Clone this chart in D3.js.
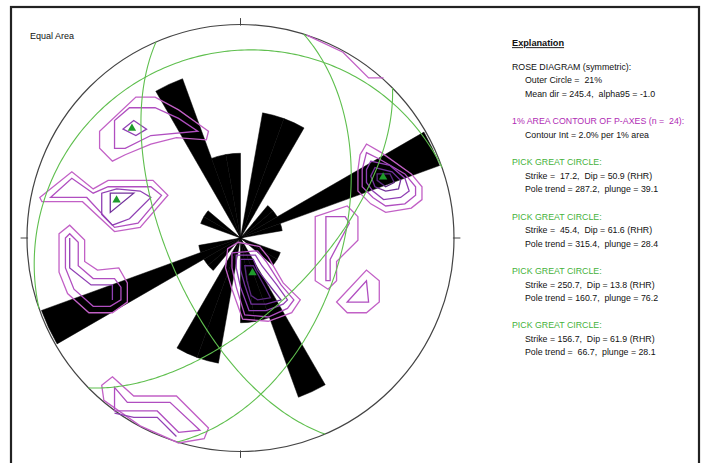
<!DOCTYPE html>
<html><head><meta charset="utf-8">
<script src="https://cdn.jsdelivr.net/npm/d3@7"></script>
<style>
html,body{margin:0;padding:0;background:#fff;}
svg{display:block;font-family:"Liberation Sans",Arial,sans-serif;}
text{white-space:pre;}
</style></head><body>
<svg id="chart" width="707" height="463"></svg>
<script>
// ---------------- data ----------------
// Rose diagram (symmetric), 10-degree bins over 0-180, counts of n = 24
const roseBinStart = [0,10,20,30,40,50,60,70,80,90,100,110,120,130,140,150,160,170];
const roseCounts   = [0, 3, 3, 0, 1, 1, 5, 1, 0, 0,  0,  1,  1,  0,  0,  4,  2,  2];
const roseTotal = 24;
const roseOuterPct = 21;
const meanDir = 245.4, alpha95 = -1.0;

// Picked great circles (strike / dip, RHR) and their poles
const gcStrike   = [17.2, 45.4, 250.7, 156.7];
const gcDip      = [50.9, 61.6, 13.8, 61.9];
const poleTrend  = [287.2, 315.4, 160.7, 66.7];
const polePlunge = [39.1, 28.4, 76.2, 28.1];

// 1% area contours of P-axes (projected x,y in % of net radius, north up)
const contourLevels = [1,2,3,4,5];
const contours = [
  // NW cluster
  {level:1, closed:true, pts:[[-66,50],[-66,42],[-60,36],[-54,39],[-42,44],[-30,47],[-16,46],[-15,50],[-29,60],[-40,66],[-49,66]]},
  {level:2, closed:true, pts:[[-59,55],[-59,42],[-54,42],[-42,48],[-20,50],[-29,56],[-40,61],[-52,61]]},
  {level:3, closed:true, pts:[[-55,51],[-50,55],[-44,51],[-49,48]]},
  // W cluster
  {level:1, closed:true, pts:[[-94,19],[-79,31],[-69,23],[-62,27],[-41,27],[-34,20],[-47,5],[-59,3],[-74,17],[-93,17]]},
  {level:2, closed:true, pts:[[-89,19],[-79,28],[-69,21],[-62,24],[-42,24],[-37,20],[-48,7],[-59,5],[-72,19]]},
  {level:3, closed:true, pts:[[-65,21],[-65,11],[-60,6],[-52,9],[-42,19],[-47,22],[-58,23]]},
  {level:4, closed:true, pts:[[-61,21],[-50,21],[-61,12]]},
  // WSW L-shape
  {level:1, closed:true, pts:[[-85,2],[-80,6],[-73,-1],[-73,-11],[-67,-15],[-57,-14],[-53,-21],[-53,-30],[-60,-35],[-71,-35],[-81,-26],[-85,-16]]},
  {level:2, closed:true, pts:[[-82,0],[-80,2],[-76,-2],[-76,-13],[-69,-19],[-59,-19],[-56,-23],[-56,-29],[-61,-32],[-69,-32],[-78,-24],[-82,-14]]},
  {level:3, closed:false, pts:[[-80,0],[-80,-14],[-70,-22],[-60,-22],[-60,-29]]},
  // SW rim cluster
  {level:1, closed:true, pts:[[-60,-65],[-50,-74],[-30,-74],[-15,-89],[-17,-94],[-29,-96],[-47,-88],[-64,-76],[-65,-69]]},
  {level:2, closed:true, pts:[[-59,-70],[-53,-77],[-33,-77],[-19,-90],[-29,-91],[-39,-81],[-59,-81]]},
  {level:3, closed:false, pts:[[-59,-82],[-50,-84],[-39,-84],[-30,-93]]},
  // NE rim
  {level:1, closed:false, pts:[[31,95],[48,87],[60,75],[67,75]]},
  // ENE cluster
  {level:1, closed:true, pts:[[59,44],[66,40],[80,30],[85,24],[85,18],[80,14],[68,12],[61,16],[55,22],[55,32],[56,39]]},
  {level:2, closed:true, pts:[[59,40],[65,37],[77,30],[82,24],[82,20],[77,16],[68,15],[62,19],[57,24],[57,32]]},
  {level:3, closed:true, pts:[[61,36],[70,34],[77,28],[79,22],[75,19],[67,18],[62,22],[59,26],[59,32]]},
  {level:4, closed:true, pts:[[63,33],[71,31],[75,27],[74,23],[68,22],[63,24],[61,29]]},
  {level:5, closed:true, pts:[[64,30],[70,30],[72,26],[68,24],[64,27]]},
  // E elongated
  {level:1, closed:true, pts:[[35,10],[50,15],[55,10],[55,-1],[45,-11],[45,-20],[41,-24],[35,-20]]},
  {level:2, closed:true, pts:[[40,10],[49,10],[51,7],[42,-10],[42,-20],[40,-20]]},
  // ESE triangle
  {level:1, closed:true, pts:[[45,-30],[59,-15],[65,-20],[65,-30],[59,-35],[50,-35]]},
  {level:2, closed:true, pts:[[50,-30],[59,-20],[60,-30]]},
  // S cluster
  {level:1, closed:true, pts:[[-6,-5],[-1,-2],[9,-4],[13,-9],[20,-21],[28,-29],[24,-35],[13,-39],[1,-38],[-4,-24],[-7,-14]]},
  {level:2, closed:true, pts:[[-4,-7],[8,-6],[12,-11],[19,-22],[25,-29],[22,-33],[13,-37],[2,-36],[-2,-23],[-4,-14]]},
  {level:3, closed:true, pts:[[-2,-8],[7,-8],[10,-13],[17,-22],[22,-29],[20,-31],[12,-34],[4,-34],[0,-23],[-2,-14]]},
  {level:4, closed:true, pts:[[0,-10],[6,-10],[8,-15],[15,-24],[19,-29],[12,-31],[5,-31],[2,-22],[0,-15]]},
  {level:5, closed:true, pts:[[2,-13],[6,-13],[12,-24],[14,-28],[8,-29],[5,-27],[3,-20]]}
];

// ---------------- layout ----------------
const W = 707, H = 463;
const cx = 240.5, cy = 238, R = 213.5;
const rad = Math.PI/180;

const svg = d3.select("#chart");

const x = d3.scaleLinear().domain([-1,1]).range([cx-R, cx+R]);
const y = d3.scaleLinear().domain([-1,1]).range([cy+R, cy-R]);
const xc = x.copy().domain([-100,100]);
const yc = y.copy().domain([-100,100]);
const rScale = d3.scaleLinear().domain([0, roseOuterPct]).range([0, 1]);
const contourColor = d3.scaleOrdinal().domain(contourLevels)
  .range(["#c260c6","#b04ec0","#9040b4","#73329c","#5a2880"]);

// frame
svg.append("rect").attr("x",11).attr("y",7).attr("width",688).attr("height",480)
  .attr("fill","none").attr("stroke","#222").attr("stroke-width",2.2);

// primitive circle
svg.append("circle").attr("cx",x(0)).attr("cy",y(0)).attr("r",x(1)-x(0))
  .attr("fill","none").attr("stroke","#444").attr("stroke-width",1.2);

// ticks N E S W
const tickDirs = [0,90,180,270];
svg.append("g").selectAll("line").data(tickDirs).join("line")
  .attr("x1",d=>x(0.995*Math.sin(d*rad))).attr("y1",d=>y(0.995*Math.cos(d*rad)))
  .attr("x2",d=>x(1.03*Math.sin(d*rad))).attr("y2",d=>y(1.03*Math.cos(d*rad)))
  .attr("stroke","#444").attr("stroke-width",1);

// rose petals (symmetric)
const polar = (az, r) => [r*Math.sin(az*rad), r*Math.cos(az*rad)];
const petals = [];
roseBinStart.forEach((a,i)=>{
  const pct = roseCounts[i]/roseTotal*100;
  if (pct<=0) return;
  const r = rScale(pct);
  [a, a+180].forEach(a0=>{
    petals.push([[0,0], polar(a0, r), polar(a0+5, r), polar(a0+10, r)]);
  });
});
const ptLine = d3.line().x(d=>x(d[0])).y(d=>y(d[1]));
svg.append("g").selectAll("path").data(petals).join("path")
  .attr("d", d=>ptLine(d)+"Z").attr("fill","#000").attr("stroke","#000").attr("stroke-width",0.5);

// contours
const cLine = d3.line().x(d=>xc(d[0])).y(d=>yc(d[1]));
svg.append("g").selectAll("path").data(contours).join("path")
  .attr("d", d=>cLine(d.pts)+(d.closed?"Z":""))
  .attr("fill","none").attr("stroke",d=>contourColor(d.level)).attr("stroke-width",1.3)
  .attr("stroke-linejoin","miter");

// great circles (equal-area, lower hemisphere)
function project(trend, plunge){
  const r = Math.SQRT2*Math.sin((90-plunge)/2*rad);
  return [r*Math.sin(trend*rad), r*Math.cos(trend*rad)];
}
function greatCircle(strike, dip){
  const dd = strike+90;
  const s = [Math.sin(strike*rad), Math.cos(strike*rad), 0];
  const dv = [Math.cos(dip*rad)*Math.sin(dd*rad), Math.cos(dip*rad)*Math.cos(dd*rad), Math.sin(dip*rad)];
  return d3.range(0,181).map(k=>{
    const th=k*rad;
    const v=[0,1,2].map(i=>Math.cos(th)*s[i]+Math.sin(th)*dv[i]);
    const pl=Math.asin(Math.max(-1,Math.min(1,v[2])))/rad;
    const tr=Math.atan2(v[0],v[1])/rad;
    return project(tr,pl);
  });
}
const gcLine = d3.line().x(d=>x(d[0])).y(d=>y(d[1])).curve(d3.curveLinear);
svg.append("g").selectAll("path").data(gcStrike.map((s,i)=>greatCircle(s,gcDip[i]))).join("path")
  .attr("d",gcLine).attr("fill","none").attr("stroke","#5fbf4e").attr("stroke-width",1.1);

// poles
svg.append("g").selectAll("path").data(poleTrend.map((t,i)=>project(t,polePlunge[i]))).join("path")
  .attr("transform",d=>`translate(${x(d[0])},${y(d[1])+0.5})`)
  .attr("d", d3.symbol().type(d3.symbolTriangle).size(30))
  .attr("fill","#1f9a2c");

// titles / explanation
svg.append("text").attr("x",30).attr("y",39).attr("font-size",9).attr("fill","#111").text("Equal Area");

const fmt = v => v.toFixed(1);
const legend = [
  {t:"Explanation", x:512, y:43, bold:true, ul:true},
  {t:"ROSE DIAGRAM (symmetric):", x:512, y:66.7},
  {t:`Outer Circle =  ${roseOuterPct}%`, x:525, y:80},
  {t:`Mean dir = ${fmt(meanDir)},  alpha95 = ${fmt(alpha95)}`, x:525, y:94},
  {t:`1% AREA CONTOUR OF P-AXES (n =  ${roseTotal}):`, x:512, y:120.7, c:"#b02cb4"},
  {t:"Contour Int = 2.0% per 1% area", x:525, y:135}
];
gcStrike.forEach((s,i)=>{
  const y0 = 162 + i*54.3;
  legend.push({t:"PICK GREAT CIRCLE:", x:512, y:y0, c:"#45b23a"});
  legend.push({t:`Strike = ${fmt(s).padStart(5," ")},  Dip = ${fmt(gcDip[i])} (RHR)`, x:525, y:y0+13.7});
  legend.push({t:`Pole trend = ${fmt(poleTrend[i]).padStart(5," ")},  plunge = ${fmt(polePlunge[i])}`, x:525, y:y0+27});
});
svg.append("g").selectAll("text").data(legend).join("text")
  .attr("x",d=>d.x).attr("y",d=>d.y+3.2)
  .attr("font-size",d=>d.bold?9.2:8.8)
  .attr("font-weight",d=>d.bold?"bold":"normal")
  .attr("text-decoration",d=>d.ul?"underline":null)
  .attr("fill",d=>d.c||"#111")
  .text(d=>d.t);
</script>
</body></html>
